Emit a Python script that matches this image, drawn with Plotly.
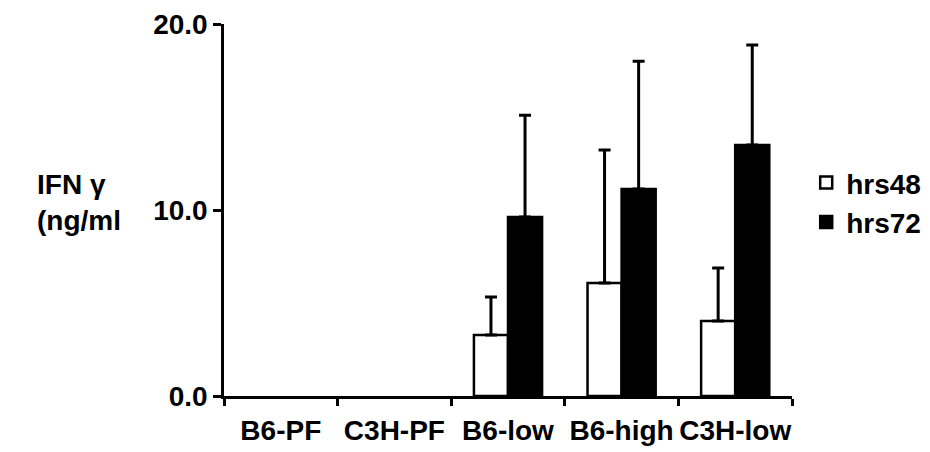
import plotly.graph_objects as go

categories = ["B6-PF", "C3H-PF", "B6-low", "B6-high", "C3H-low"]
hrs48 = [None, None, 3.28, 6.08, 4.03]
hrs48_err = [0, 0, 2.04, 7.15, 2.85]
hrs72 = [None, None, 9.62, 11.13, 13.5]
hrs72_err = [0, 0, 5.48, 6.87, 5.37]
zeros = [0, 0, 0, 0, 0]

FONT = "Liberation Sans, Arial, sans-serif"

fig = go.Figure()
fig.add_trace(go.Bar(
    name="hrs48", x=categories, y=hrs48,
    marker=dict(color="white", line=dict(color="black", width=2.5)),
    error_y=dict(type="data", symmetric=False, array=hrs48_err, arrayminus=zeros,
                 thickness=3, width=6, color="black"),
))
fig.add_trace(go.Bar(
    name="hrs72", x=categories, y=hrs72,
    marker=dict(color="black", line=dict(color="black", width=2.5)),
    error_y=dict(type="data", symmetric=False, array=hrs72_err, arrayminus=zeros,
                 thickness=3, width=6, color="black"),
))

fig.update_layout(
    width=930, height=452,
    margin=dict(l=216, r=130, t=16, b=64),
    paper_bgcolor="white", plot_bgcolor="white",
    barmode="group", bargap=0.4, bargroupgap=0,
    font=dict(family=FONT, size=28, color="black", weight="bold"),
    showlegend=True,
    legend=dict(x=1.025, y=0.64, xanchor="left", yanchor="top",
                font=dict(family=FONT, size=28, color="black", weight="bold"),
                bgcolor="rgba(0,0,0,0)", itemwidth=30, tracegroupgap=0),
    xaxis=dict(
        showline=True, linecolor="black", linewidth=2.5, automargin=False,
        ticks="outside", tickson="boundaries", ticklen=7, tickwidth=2.5, tickcolor="black",
        showgrid=False, zeroline=False, tickangle=0, ticklabelstandoff=8,
        tickfont=dict(family=FONT, size=28, color="black", weight="bold"),
    ),
    yaxis=dict(
        range=[0, 20], tickvals=[0, 10, 20], tickformat=".1f", automargin=False,
        showline=True, linecolor="black", linewidth=2.5,
        ticks="outside", ticklen=8, tickwidth=2.5, tickcolor="black",
        showgrid=False, zeroline=False,
        tickfont=dict(family=FONT, size=28, color="black", weight="bold"),
    ),
    annotations=[dict(
        text="IFN γ<br>(ng/ml", xref="paper", yref="paper",
        x=-0.332, y=0.52, xanchor="left", yanchor="middle", align="left",
        showarrow=False,
        font=dict(family=FONT, size=28, color="black", weight="bold"),
    )],
)

fig.write_html("out.html")
